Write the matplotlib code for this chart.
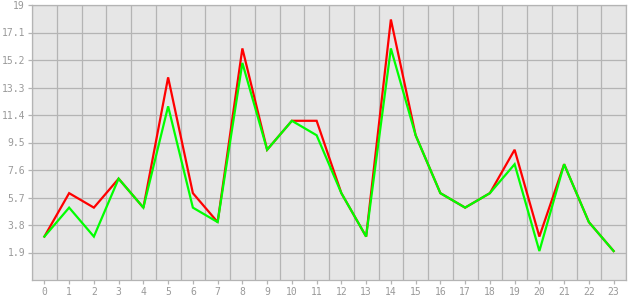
import matplotlib
matplotlib.use("Agg")
import matplotlib.pyplot as plt
import numpy as np

categories = [str(i) for i in range(24)]
red_values = [3, 6, 5, 7, 5, 14, 6, 4, 16, 9, 11, 11, 6, 3, 18, 10, 6, 5, 6, 9, 3, 8, 4, 2]
green_values = [3, 5, 3, 7, 5, 12, 5, 4, 15, 9, 11, 10, 6, 3, 16, 10, 6, 5, 6, 8, 2, 8, 4, 2]
y_ticks = [1.9, 3.8, 5.7, 7.6, 9.5, 11.4, 13.3, 15.2, 17.1, 19]
y_tick_labels = ["1.9", "3.8", "5.7", "7.6", "9.5", "11.4", "13.3", "15.2", "17.1", "19"]

fig = plt.figure(figsize=(6.3, 3.0), dpi=100)
ax = fig.add_axes([32/630, 20/300, 594/630, 275/300])
ax.set_facecolor("#e6e6e6")
x = np.arange(len(categories))
ax.plot(x, red_values, color="#ff0000", lw=1.6, solid_joinstyle="miter", zorder=3)
ax.plot(x, green_values, color="#00ff00", lw=1.6, solid_joinstyle="miter", zorder=4)

ax.set_xlim(-0.5, len(categories) - 0.5)
ax.set_ylim(0, 19)
ax.set_xticks(x)
ax.set_xticklabels(categories)
ax.set_xticks(np.arange(len(categories) + 1) - 0.5, minor=True)
ax.set_yticks(y_ticks)
ax.set_yticklabels(y_tick_labels)

gc = "#b4b4b4"
ax.grid(False)
ax.xaxis.grid(True, which="minor", color=gc, lw=0.9)
ax.yaxis.grid(True, which="major", color=gc, lw=0.9)
for s in ax.spines.values():
    s.set_color(gc)
    s.set_linewidth(0.9)
ax.tick_params(axis="x", which="minor", length=0)
ax.tick_params(axis="both", which="major", color=gc, length=3, width=0.9,
               labelcolor="#999999", labelsize=7, pad=2)
for lab in ax.get_xticklabels() + ax.get_yticklabels():
    lab.set_fontfamily("DejaVu Sans Mono")
ax.set_axisbelow(True)

fig.savefig("out.png", dpi=100, facecolor="white")
